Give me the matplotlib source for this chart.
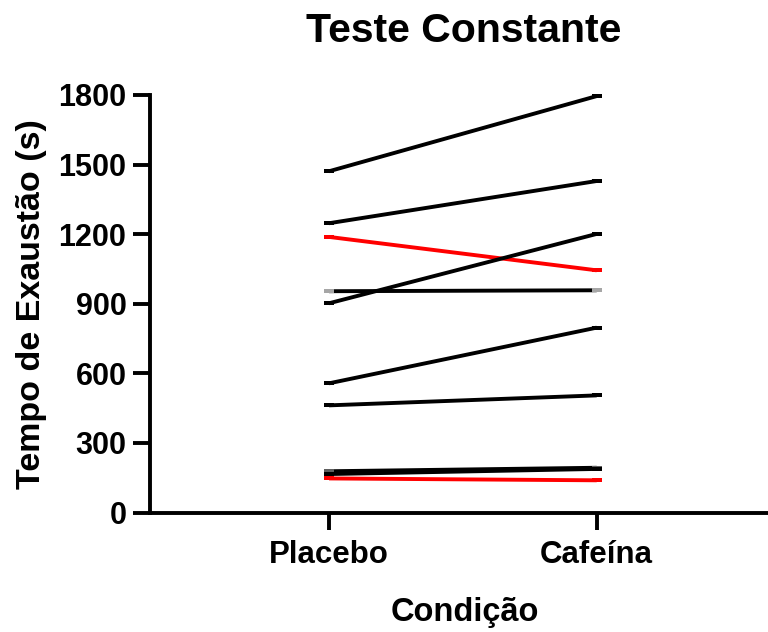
import numpy as np
import matplotlib
matplotlib.use('Agg')
import matplotlib.pyplot as plt

# data (seconds)
conditions = ['Placebo', 'Cafeína']
placebo = [1471, 1247, 1188, 902, 954, 557, 462, 178, 166, 147]
cafeina = [1795, 1429, 1044, 1201, 958, 797, 505, 193, 188, 139]
line_colors = ['black', 'black', 'red', 'black', 'black',
               'black', 'black', 'black', 'black', 'red']
marker_colors = ['black', 'black', 'red', 'black', '#a6a6a6',
                 'black', 'black', '#5f5f5f', 'black', 'red']
yticks = [0, 300, 600, 900, 1200, 1500, 1800]

plt.rcParams['font.family'] = ['Liberation Sans', 'DejaVu Sans']
plt.rcParams['font.weight'] = 'bold'

fig = plt.figure(figsize=(7.68, 6.32), dpi=100)
ax = fig.add_axes([0.1953, 0.189, 0.8047, 0.6608])

# wide flat marker, like the prism dashes
rect = [(-1, -0.55), (1, -0.55), (1, 0.55), (-1, 0.55), (-1, -0.55)]
x = np.arange(len(conditions))
for a, b, lc, mc in zip(placebo, cafeina, line_colors, marker_colors):
    ax.plot(x, [a, b], color=lc, lw=2.8, marker=rect, markersize=6.5,
            markerfacecolor=mc, markeredgecolor=mc, markeredgewidth=0,
            solid_capstyle='butt', clip_on=False)

ax.set_xlim(-0.669, 1.64)
ax.set_ylim(0, 1800)
ax.set_xticks(x)
ax.set_xticklabels(conditions, fontsize=22.5, fontweight='bold')
ax.set_yticks(yticks)
ax.set_yticklabels([str(v) for v in yticks], fontsize=22, fontweight='bold')
ax.tick_params(axis='both', length=12, width=2.8, direction='out', pad=5)
ax.tick_params(axis='x', pad=8)

for s in ['top', 'right']:
    ax.spines[s].set_visible(False)
for s in ['left', 'bottom']:
    ax.spines[s].set_linewidth(2.8)

ax.set_ylabel('Tempo de Exaustão (s)', fontsize=24.5, fontweight='bold', labelpad=8)
fig.text(465 / 768, 1 - 613 / 632, 'Condição', fontsize=23.5,
         fontweight='bold', ha='center', va='center')
fig.text(464 / 768, 1 - 31 / 632, 'Teste Constante', fontsize=29.5,
         fontweight='bold', ha='center', va='center')

fig.savefig('out.png', dpi=100)
